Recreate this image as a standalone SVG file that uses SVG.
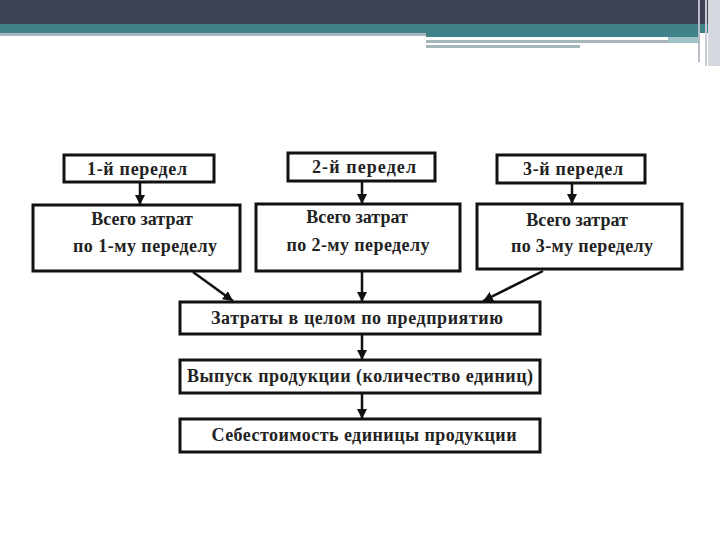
<svg xmlns="http://www.w3.org/2000/svg" width="720" height="540" viewBox="0 0 720 540">
<style>
.box{fill:#fff;stroke:#111;stroke-width:3}
.t{font-family:"Liberation Serif","Times New Roman",serif;font-weight:bold;font-size:18px;fill:#222;text-anchor:middle}
.c{stroke:#111;stroke-width:2.5;fill:none}
</style>
<defs>
<marker id="ah" markerUnits="userSpaceOnUse" markerWidth="12" markerHeight="12" refX="10" refY="5" orient="auto">
<path d="M0,0 L10,5 L0,10 Z" fill="#111"/>
</marker>
</defs>
<rect width="720" height="540" fill="#fff"/>
<g id="header">
<rect x="0" y="0" width="720" height="24" fill="#3d4352"/>
<rect x="0" y="24" width="720" height="9" fill="#40818a"/>
<rect x="0" y="33" width="426" height="3" fill="#a7b6ba"/>
<rect x="426" y="33" width="274" height="4" fill="#40818a"/>
<rect x="426" y="40" width="242" height="3" fill="#a7b6ba"/>
<rect x="426" y="45" width="154" height="3" fill="#a7b6ba"/>
<rect x="668" y="37" width="32" height="6" fill="#9fc3c8"/>
<rect x="698" y="0" width="2" height="62" fill="#b9bcc8"/>
<rect x="705" y="0" width="2" height="66" fill="#c9ccd6"/>
<rect x="708" y="0" width="12" height="66" fill="#d6d8e0"/>
</g>
<g id="connectors">
<line class="c" x1="140" y1="183" x2="140" y2="205" marker-end="url(#ah)"/>
<line class="c" x1="362" y1="181" x2="362" y2="204" marker-end="url(#ah)"/>
<line class="c" x1="572" y1="183" x2="572" y2="204" marker-end="url(#ah)"/>
<line class="c" x1="193" y1="272" x2="233" y2="301" marker-end="url(#ah)"/>
<line class="c" x1="362" y1="271" x2="362" y2="302" marker-end="url(#ah)"/>
<line class="c" x1="543" y1="271" x2="483" y2="301" marker-end="url(#ah)"/>
<line class="c" x1="362" y1="334" x2="362" y2="360" marker-end="url(#ah)"/>
<line class="c" x1="362" y1="393" x2="362" y2="419" marker-end="url(#ah)"/>
</g>
<g id="p1"><rect class="box" x="64" y="155" width="150" height="27"/><text class="t" x="137" y="175" textLength="100">1-й передел</text></g>
<g id="p2"><rect class="box" x="288" y="153" width="147" height="28"/><text class="t" x="364" y="173" textLength="104">2-й передел</text></g>
<g id="p3"><rect class="box" x="497" y="155" width="148" height="28"/><text class="t" x="573" y="175" textLength="100">3-й передел</text></g>
<g id="s1"><rect class="box" x="33" y="205" width="207" height="66"/><text class="t" x="142" y="225">Всего затрат</text><text class="t" x="145" y="252" textLength="144">по 1-му переделу</text></g>
<g id="s2"><rect class="box" x="256" y="204" width="204" height="67"/><text class="t" x="357" y="223">Всего затрат</text><text class="t" x="358" y="251" textLength="143">по 2-му переделу</text></g>
<g id="s3"><rect class="box" x="477" y="204" width="205" height="65"/><text class="t" x="577" y="226">Всего затрат</text><text class="t" x="582" y="252" textLength="142">по 3-му переделу</text></g>
<g id="total"><rect class="box" x="180" y="302" width="360" height="32"/><text class="t" x="357" y="324" textLength="292">Затраты в целом по предприятию</text></g>
<g id="output"><rect class="box" x="180" y="360" width="360" height="33"/><text class="t" x="360" y="382" textLength="346">Выпуск продукции (количество единиц)</text></g>
<g id="cost"><rect class="box" x="180" y="419" width="360" height="33"/><text class="t" x="364" y="441" textLength="305">Себестоимость единицы продукции</text></g>
</svg>
